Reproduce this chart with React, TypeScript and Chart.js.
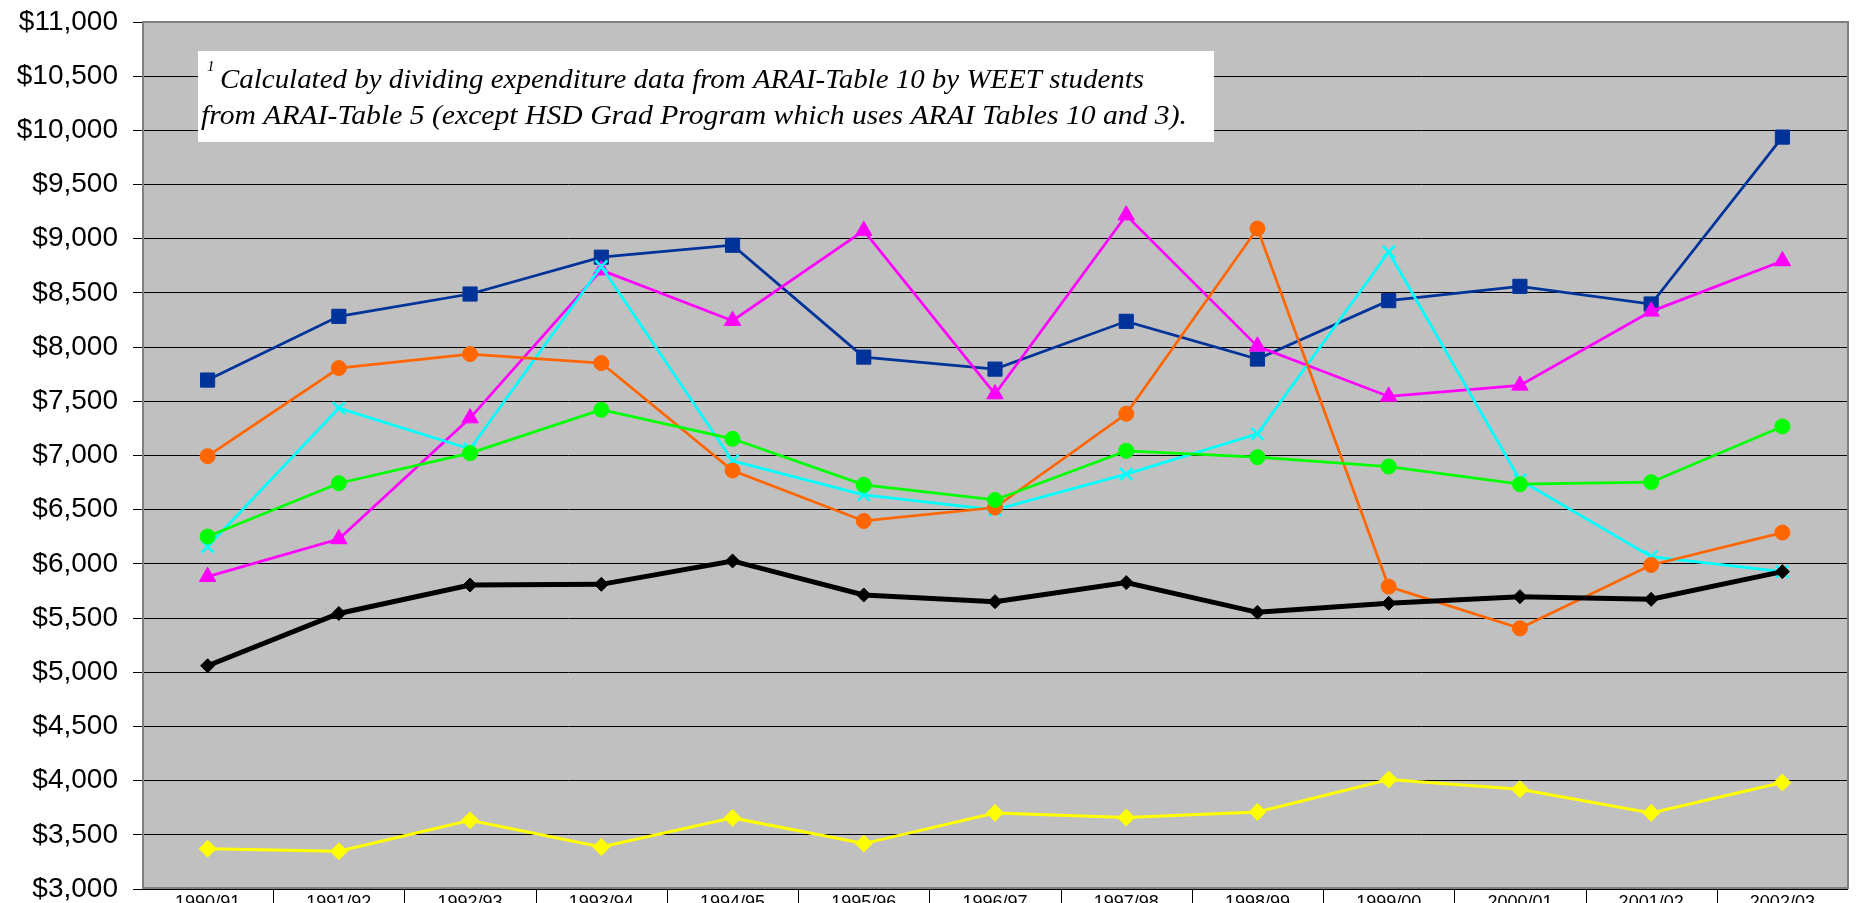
import React, { useEffect, useRef } from 'react';
import { Chart, registerables } from 'chart.js';

Chart.register(...registerables);

const categories = ['1990/91', '1991/92', '1992/93', '1993/94', '1994/95', '1995/96', '1996/97', '1997/98', '1998/99', '1999/00', '2000/01', '2001/02', '2002/03'];

const seriesBlue = [7696, 8284, 8490, 8830, 8940, 7908, 7797, 8238, 7890, 8429, 8561, 8398, 9938];
const seriesMagenta = [5882, 6230, 7345, 8710, 8244, 9075, 7567, 9217, 8007, 7545, 7647, 8330, 8795];
const seriesOrange = [6994, 7807, 7936, 7853, 6861, 6396, 6520, 7385, 9094, 5790, 5405, 5990, 6289];
const seriesCyan = [6160, 7437, 7060, 8745, 6950, 6637, 6498, 6828, 7200, 8878, 6775, 6067, 5928];
const seriesGreen = [6252, 6744, 7022, 7422, 7154, 6729, 6590, 7043, 6985, 6898, 6735, 6754, 7268];
const seriesBlack = [5060, 5542, 5805, 5811, 6027, 5713, 5651, 5827, 5553, 5636, 5697, 5673, 5928];
const seriesYellow = [3372, 3348, 3634, 3388, 3656, 3419, 3702, 3659, 3711, 4010, 3921, 3702, 3982];

const yMin = 3000;
const yMax = 11000;
const yStep = 500;

const noteSup = '1';
const noteLine1 = 'Calculated by dividing expenditure data from ARAI-Table 10 by WEET students';
const noteLine2 = 'from ARAI-Table 5 (except HSD Grad Program which uses ARAI Tables 10 and 3).';

const decorPlugin = {
  id: 'decor',
  beforeDraw(chart: any) {
    const { ctx, chartArea: a } = chart;
    ctx.save();
    ctx.fillStyle = '#ffffff';
    ctx.fillRect(0, 0, chart.width, chart.height);
    ctx.fillStyle = '#C0C0C0';
    ctx.fillRect(a.left, a.top, a.right - a.left, a.bottom - a.top);
    ctx.restore();
  },
  beforeDatasetsDraw(chart: any) {
    const { ctx, chartArea: a } = chart;
    ctx.save();
    // plot border
    ctx.strokeStyle = '#808080';
    ctx.lineWidth = 2;
    ctx.strokeRect(a.left + 1, a.top, a.right - a.left - 1, a.bottom - a.top - 1);
    // x axis line
    ctx.strokeStyle = '#000000';
    ctx.lineWidth = 1;
    ctx.beginPath();
    ctx.moveTo(a.left - 9, a.bottom + 0.5);
    ctx.lineTo(a.right, a.bottom + 0.5);
    ctx.stroke();
    // category dividers below axis
    const xs = chart.scales.x;
    const band = xs.getPixelForValue(1) - xs.getPixelForValue(0);
    for (let i = 1; i < categories.length; i++) {
      const px = Math.round(xs.getPixelForValue(i) - band / 2) + 0.5;
      ctx.beginPath();
      ctx.moveTo(px, a.bottom);
      ctx.lineTo(px, chart.height);
      ctx.stroke();
    }
    // annotation box
    const bx = a.left + 56;
    const by = a.top + 29;
    const bw = 1016;
    const bh = 91;
    ctx.fillStyle = '#ffffff';
    ctx.fillRect(bx, by, bw, bh);
    ctx.fillStyle = '#000000';
    ctx.textBaseline = 'alphabetic';
    ctx.textAlign = 'left';
    ctx.font = 'italic 28px "Liberation Serif", "Times New Roman", serif';
    const w1 = ctx.measureText(noteLine1).width;
    const w2 = ctx.measureText(noteLine2).width;
    const sx1 = 924 / w1;
    const sx2 = 986 / w2;
    ctx.save();
    ctx.translate(bx + 22, by + 37);
    ctx.scale(sx1, 1);
    ctx.fillText(noteLine1, 0, 0);
    ctx.restore();
    ctx.save();
    ctx.translate(bx + 3, by + 73);
    ctx.scale(sx2, 1);
    ctx.fillText(noteLine2, 0, 0);
    ctx.restore();
    ctx.font = 'italic 15px "Liberation Serif", "Times New Roman", serif';
    ctx.fillText(noteSup, bx + 9, by + 20);
    ctx.restore();
  },
};

export default function App() {
  const ref = useRef<HTMLCanvasElement | null>(null);

  useEffect(() => {
    document.body.style.margin = '0';
    const canvas = ref.current;
    if (!canvas) return;
    const mk = (label: string, data: number[], color: string, style: string, radius: number, width: number) => ({
      label,
      data,
      borderColor: color,
      backgroundColor: color,
      pointBackgroundColor: color,
      pointBorderColor: color,
      pointStyle: style,
      pointRadius: radius,
      pointBorderWidth: style === 'crossRot' ? 2.5 : 1,
      borderWidth: width,
      tension: 0,
      fill: false,
    });
    const chart = new Chart(canvas, {
      type: 'line',
      data: {
        labels: categories,
        datasets: [
          mk('Yellow', seriesYellow, '#FFFF00', 'rectRot', 8.5, 3),
          mk('Black', seriesBlack, '#000000', 'rectRot', 7, 5),
          mk('Green', seriesGreen, '#00FF00', 'circle', 7.5, 2.75),
          mk('Orange', seriesOrange, '#FF6600', 'circle', 7.5, 2.75),
          mk('Cyan', seriesCyan, '#00FFFF', 'crossRot', 8.5, 2.75),
          mk('Magenta', seriesMagenta, '#FF00FF', 'triangle', 9.5, 2.75),
          mk('Blue', seriesBlue, '#003399', 'rect', 10, 2.75),
        ] as any,
      },
      options: {
        responsive: false,
        animation: false,
        layout: { padding: { top: 21, right: 8, bottom: 0, left: 0 } },
        plugins: {
          legend: { display: false },
          tooltip: { enabled: false },
          title: { display: false },
        },
        scales: {
          x: {
            type: 'category',
            offset: true,
            grid: { display: false, drawTicks: false },
            border: { display: false },
            ticks: {
              autoSkip: false,
              maxRotation: 0,
              minRotation: 0,
              padding: 10,
              color: '#000000',
              font: { family: '"Liberation Sans", Arial, sans-serif', size: 18, lineHeight: 0.5 },
            },
            afterFit: (scale: any) => {
              scale.height = 16;
            },
          },
          y: {
            min: yMin,
            max: yMax,
            grid: { color: '#000000', lineWidth: 1, drawTicks: true, tickLength: 9 },
            border: { display: false },
            ticks: {
              stepSize: yStep,
              padding: 15,
              color: '#000000',
              font: { family: '"Liberation Sans", Arial, sans-serif', size: 28, lineHeight: 0.5 },
              callback: (v: any) => '$' + Number(v).toLocaleString('en-US'),
            },
            afterFit: (scale: any) => {
              scale.width = 142;
            },
          },
        },
      } as any,
      plugins: [decorPlugin],
    });
    return () => chart.destroy();
  }, []);

  return (
    <div style={{ width: 1859, height: 903, overflow: 'hidden' }}>
      <canvas ref={ref} width={1859} height={911} style={{ display: 'block' }} />
    </div>
  );
}
